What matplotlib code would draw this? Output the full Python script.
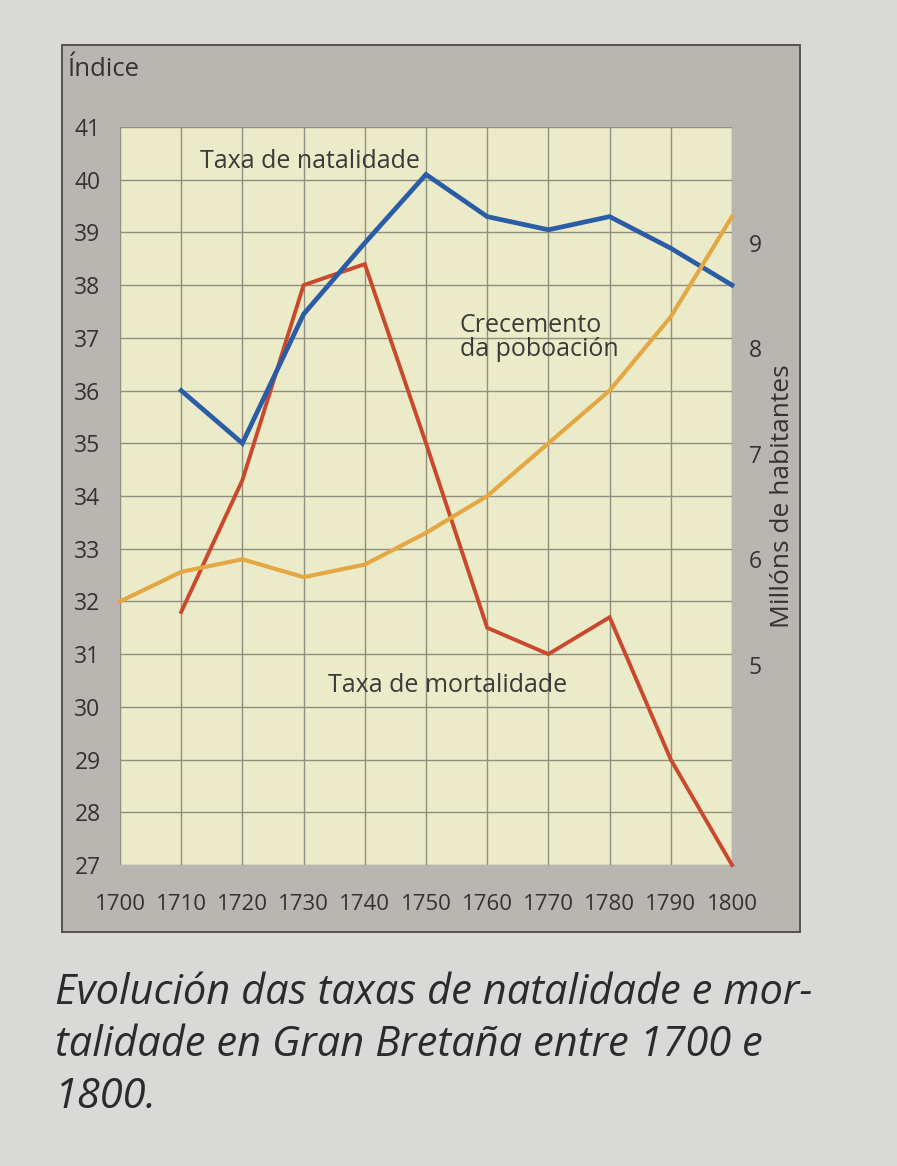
import matplotlib.pyplot as plt
from matplotlib.patches import Rectangle

# data
years = [1700, 1710, 1720, 1730, 1740, 1750, 1760, 1770, 1780, 1790, 1800]
natalidade_years = years[1:]
natalidade = [36.0, 35.0, 37.45, 38.8, 40.1, 39.3, 39.05, 39.3, 38.7, 38.0]
mortalidade_years = years[1:]
mortalidade = [31.8, 34.3, 38.0, 38.4, 35.0, 31.5, 31.0, 31.7, 29.0, 27.0]
poboacion = [5.6, 5.88, 6.0, 5.83, 5.95, 6.25, 6.6, 7.1, 7.6, 8.3, 9.25]  # millions

index_ticks = list(range(27, 42))
million_ticks = [5, 6, 7, 8, 9]

W, H = 897, 1166
fig = plt.figure(figsize=(W / 100, H / 100), dpi=100)
fig.patch.set_facecolor('#d9d9d7')
FONT = ['Open Sans', 'DejaVu Sans']

# grey panel behind the chart
panel = Rectangle((62 / W, 1 - 932 / H), (800 - 62) / W, (932 - 45) / H,
                  transform=fig.transFigure, facecolor='#b9b6b2',
                  edgecolor='#55524f', linewidth=1.4, zorder=-1)
fig.patches.append(panel)

ax = fig.add_axes([120 / W, 1 - 865 / H, (732 - 120) / W, (865 - 127) / H])
ax.set_facecolor('#ecebc9')
for s in ax.spines.values():
    s.set_visible(False)

ax.set_xlim(1700, 1800)
ax.set_ylim(27, 41)
ax.set_xticks(years)
ax.set_yticks(index_ticks)
ax.grid(True, color='#8f8f80', linewidth=1.0)
ax.set_axisbelow(True)
ax.tick_params(length=0)
ax.tick_params(axis='y', pad=14, labelsize=16.5, labelcolor='#333333')
ax.tick_params(axis='x', pad=21, labelsize=16, labelcolor='#333333')
for lab in ax.get_yticklabels() + ax.get_xticklabels():
    lab.set_family(FONT)

ax.plot(natalidade_years, natalidade, color='#2b5ca6', linewidth=3.4,
        solid_joinstyle='miter', zorder=4, clip_on=False)
ax.plot(mortalidade_years, mortalidade, color='#c9492c', linewidth=2.8,
        solid_joinstyle='miter', zorder=3, clip_on=False)

ax2 = ax.twinx()
for s in ax2.spines.values():
    s.set_visible(False)
ax2.set_ylim(3.1, 10.1)
ax2.set_yticks(million_ticks)
ax2.tick_params(length=0, pad=12, labelsize=16.5, labelcolor='#333333')
for lab in ax2.get_yticklabels():
    lab.set_family(FONT)
ax2.plot(years, poboacion, color='#e3a843', linewidth=3.0, zorder=2, clip_on=False)
ax2.set_ylabel('Millóns de habitantes', fontsize=19, color='#333333',
               family=FONT, labelpad=6)

# series labels
txt = dict(fontsize=18, color='#3a3a3a', family=FONT, zorder=5)
ax.text(1713, 40.35, 'Taxa de natalidade', ha='left', va='center', **txt)
ax.text(1755.5, 37.0, 'Crecemento\nda poboación', ha='left', va='center',
        linespacing=0.95, **txt)
ax.text(1734, 30.4, 'Taxa de mortalidade', ha='left', va='center', **txt)

fig.text(68 / W, 1 - 70 / H, 'Índice', fontsize=18.5, color='#333333',
         family=FONT, ha='left', va='center')

fig.text(55 / W, 1 - 1045 / H,
         'Evolución das taxas de natalidade e mor-\n'
         'talidade en Gran Bretaña entre 1700 e\n1800.',
         fontsize=30, style='italic', color='#2b2b2b', linespacing=1.3,
         family=FONT, ha='left', va='center')

fig.savefig('out.png', dpi=100, facecolor=fig.get_facecolor())
